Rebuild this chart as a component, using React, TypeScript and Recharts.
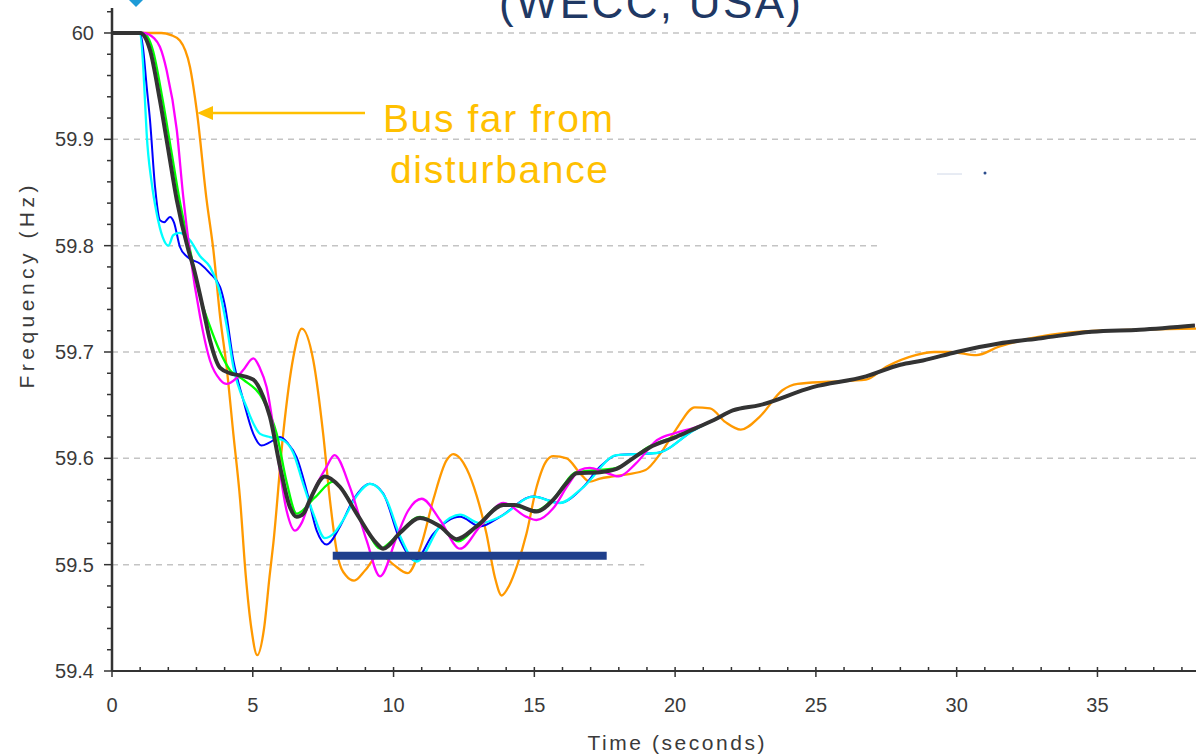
import React from "react";
import { LineChart, Line, XAxis, YAxis, ReferenceLine } from "recharts";

// [time (s), frequency (Hz)]
const ORANGE: [number, number][] = [
  [0, 60], [1.75, 60], [2.1, 59.998], [2.41, 59.993], [2.77, 59.968], [3.02, 59.925],
  [3.36, 59.843], [3.6, 59.796], [3.84, 59.733], [4.07, 59.686], [4.31, 59.623],
  [4.55, 59.561], [4.75, 59.49], [4.95, 59.44], [5.16, 59.415], [5.4, 59.44], [5.6, 59.49],
  [5.73, 59.52], [6.08, 59.623], [6.44, 59.695], [6.74, 59.722], [7.15, 59.692],
  [7.5, 59.623], [7.74, 59.561], [8.0, 59.51], [8.3, 59.49], [8.6, 59.485], [9.0, 59.495],
  [9.5, 59.51], [10.0, 59.5], [10.5, 59.492], [11.0, 59.52], [11.41, 59.561],
  [11.88, 59.598], [12.12, 59.604], [12.6, 59.59], [12.95, 59.565], [13.3, 59.529],
  [13.6, 59.488], [13.84, 59.471], [14.1, 59.48], [14.4, 59.5], [14.72, 59.529],
  [15.08, 59.573], [15.44, 59.598], [15.67, 59.602], [16.15, 59.6], [16.62, 59.586],
  [16.97, 59.578], [17.33, 59.581], [17.8, 59.583], [18.3, 59.585], [18.95, 59.589],
  [19.49, 59.605], [20.03, 59.627], [20.7, 59.648], [21.24, 59.647], [21.79, 59.634],
  [22.33, 59.627], [23.0, 59.639], [23.81, 59.664], [24.35, 59.67], [25.43, 59.672],
  [26.78, 59.674], [27.5, 59.686], [28.54, 59.697], [29.2, 59.7], [29.8, 59.7],
  [30.7, 59.697], [31.5, 59.705], [33.3, 59.716], [35.0, 59.72], [36.5, 59.721], [38.5, 59.722],
];

// common slow recovery, all near buses overlap here
const TAIL: [number, number][] = [
  [21.38, 59.636], [22.05, 59.645], [23.0, 59.65], [24.89, 59.667], [26.78, 59.677],
  [28.0, 59.688], [28.8, 59.692], [30.0, 59.7], [31.5, 59.708], [33.0, 59.713],
  [34.8, 59.719], [36.5, 59.721], [38.46, 59.725],
];

const BLUE: [number, number][] = [
  [0, 60], [1.0, 60], [1.11, 59.984], [1.23, 59.95], [1.35, 59.918], [1.53, 59.855],
  [1.7, 59.824], [1.85, 59.822], [2.06, 59.827], [2.2, 59.822], [2.41, 59.799],
  [2.65, 59.79], [3.13, 59.783], [3.48, 59.774], [3.84, 59.761], [4.0, 59.745],
  [4.31, 59.692], [4.66, 59.655], [5.02, 59.623], [5.31, 59.612], [5.6, 59.615],
  [5.97, 59.62], [6.25, 59.614], [6.56, 59.601], [6.91, 59.57], [7.27, 59.532],
  [7.62, 59.519], [8.1, 59.536], [8.57, 59.561], [9.16, 59.576], [9.63, 59.567],
  [10.23, 59.523], [10.76, 59.504], [11.41, 59.529], [12.36, 59.545], [13.07, 59.536],
  [13.78, 59.545], [14.96, 59.564], [15.9, 59.558], [16.74, 59.573], [17.33, 59.592],
  [17.92, 59.603], [19.35, 59.605], [20.7, 59.627],
];

const CYAN: [number, number][] = [
  [0, 60], [0.97, 60], [1.11, 59.968], [1.17, 59.937], [1.23, 59.906], [1.41, 59.859],
  [1.59, 59.83], [1.8, 59.808], [2.0, 59.8], [2.18, 59.81], [2.41, 59.812], [2.77, 59.805],
  [3.13, 59.79], [3.48, 59.78], [3.78, 59.761], [4.07, 59.725], [4.31, 59.686],
  [4.78, 59.648], [5.26, 59.623], [5.61, 59.62], [6.08, 59.617], [6.44, 59.605],
  [6.79, 59.576], [7.15, 59.548], [7.56, 59.525], [7.9, 59.53], [8.21, 59.542],
  [8.7, 59.565], [9.16, 59.576], [9.75, 59.561], [10.23, 59.527], [10.82, 59.503],
  [11.65, 59.536], [12.36, 59.547], [13.07, 59.539], [13.78, 59.545], [14.96, 59.564],
  [15.9, 59.558], [16.74, 59.573], [17.92, 59.603], [19.35, 59.605], [20.7, 59.627],
];

const GREEN: [number, number][] = [
  [0, 60], [1.1, 60], [1.45, 59.984], [1.8, 59.937], [2.1, 59.89], [2.4, 59.843],
  [2.78, 59.795], [3.1, 59.755], [3.48, 59.724], [3.84, 59.7], [4.19, 59.683],
  [4.66, 59.674], [5.37, 59.655], [5.85, 59.623], [6.2, 59.578], [6.56, 59.548],
  [7.2, 59.563], [7.86, 59.578], [8.2, 59.57], [8.69, 59.548], [9.1, 59.53],
  [9.52, 59.515], [10.0, 59.524], [10.94, 59.545], [11.65, 59.536], [12.3, 59.522],
  [12.95, 59.536], [13.9, 59.557], [15.08, 59.551], [15.67, 59.562], [16.5, 59.587],
  [17.92, 59.591], [19.08, 59.611], [20.03, 59.621],
];

const MAGENTA: [number, number][] = [
  [0, 60], [1.1, 60], [1.5, 59.995], [1.7, 59.987], [1.94, 59.965], [2.3, 59.909],
  [2.53, 59.846], [2.77, 59.793], [3.13, 59.733], [3.48, 59.692], [3.84, 59.674],
  [4.07, 59.67], [4.4, 59.675], [4.66, 59.683], [5.02, 59.694], [5.25, 59.685],
  [5.49, 59.667], [5.85, 59.608], [6.2, 59.551], [6.5, 59.532], [6.75, 59.54],
  [7.03, 59.561], [7.62, 59.592], [7.9, 59.603], [8.45, 59.573], [9.04, 59.523],
  [9.52, 59.489], [10.11, 59.526], [10.5, 59.55], [11.0, 59.562], [11.65, 59.542],
  [12.36, 59.515], [13.07, 59.536], [13.9, 59.558], [14.72, 59.545], [15.08, 59.542],
  [15.67, 59.553], [16.2, 59.575], [16.62, 59.589], [16.97, 59.591], [17.4, 59.588],
  [18.0, 59.583], [18.6, 59.595], [19.35, 59.617], [20.03, 59.624], [20.7, 59.629],
];

const BLACK: [number, number][] = [
  [0, 60], [1.0, 60], [1.35, 59.984], [1.7, 59.937], [2.0, 59.89], [2.3, 59.843],
  [2.7, 59.797], [2.89, 59.78], [3.25, 59.739], [3.48, 59.711], [3.84, 59.685],
  [4.2, 59.68], [4.55, 59.678], [5.02, 59.674], [5.37, 59.658], [5.61, 59.639],
  [5.97, 59.592], [6.32, 59.554], [6.56, 59.545], [6.8, 59.548], [7.03, 59.561],
  [7.56, 59.583], [8.1, 59.573], [8.69, 59.548], [9.4, 59.52], [9.63, 59.515],
  [10.23, 59.53], [10.94, 59.544], [11.65, 59.536], [12.24, 59.524], [12.95, 59.536],
  [13.9, 59.556], [14.3, 59.556], [15.08, 59.55], [15.67, 59.561], [16.15, 59.577],
  [16.5, 59.586], [17.33, 59.587], [17.92, 59.59], [18.5, 59.6], [19.08, 59.61],
  [20.03, 59.62], [20.7, 59.628],
];

// highlighted nadir band
const BAR: [number, number][] = [[7.84, 59.5085], [17.57, 59.5085]];

const X_MAJOR = [0, 5, 10, 15, 20, 25, 30, 35];
const Y_MAJOR = [59.4, 59.5, 59.6, 59.7, 59.8, 59.9, 60];
const GRID_Y = [60, 59.9, 59.8, 59.7, 59.6, 59.5];
const GRID_END = [38.5, 38.5, 27.2, 38.5, 38.5, 18.9];

const X_TICKS = Array.from({ length: 39 }, (_, i) => i);
const Y_TICKS = Array.from({ length: 32 }, (_, i) => Math.round((59.4 + i * 0.02) * 100) / 100);

const FONT = "'Liberation Sans', Arial, sans-serif";
const AXIS = "#333333";
const LABEL = "#3a3a3a";
const GOLD = "#FFC000";

const pts = (arr: [number, number][]) => arr.map(([t, f]) => ({ t, f }));

function XTick({ x, y, payload }: any) {
  const major = X_MAJOR.includes(payload.value);
  return (
    <g>
      <line x1={x} x2={x} y1={y - 4} y2={major ? y + 6 : y} stroke={AXIS} strokeWidth={1.5} />
      {major && (
        <text x={x} y={y + 41} textAnchor="middle" fontSize={20} fill={LABEL} fontFamily={FONT}>
          {payload.value}
        </text>
      )}
    </g>
  );
}

function YTick({ x, y, payload }: any) {
  const major = Y_MAJOR.some((v) => Math.abs(v - payload.value) < 1e-6);
  return (
    <g>
      <line x1={x - (major ? 8 : 5)} x2={x} y1={y} y2={y} stroke={AXIS} strokeWidth={1.5} />
      {major && (
        <text x={x - 18} y={y} dy="0.35em" textAnchor="end" fontSize={20} fill={LABEL} fontFamily={FONT}>
          {String(Math.round(payload.value * 10) / 10)}
        </text>
      )}
    </g>
  );
}

const SERIES = [
  { key: "orange", data: ORANGE, color: "#FF9900", width: 2.3 },
  { key: "blue", data: BLUE.concat(TAIL), color: "#0000FF", width: 2 },
  { key: "cyan", data: CYAN.concat(TAIL), color: "#00FFFF", width: 2.3 },
  { key: "green", data: GREEN.concat(TAIL), color: "#00FF00", width: 2.3 },
  { key: "magenta", data: MAGENTA.concat(TAIL), color: "#FF00FF", width: 2.3 },
  { key: "black", data: BLACK.concat(TAIL), color: "#333333", width: 4 },
];

export default function App() {
  return (
    <div style={{ position: "fixed", left: 0, top: 0, width: 1196, height: 756, background: "#fff", overflow: "hidden" }}>
      <LineChart width={1196} height={756} margin={{ top: 8, right: 0, bottom: 0, left: 0 }}>
        <XAxis
          type="number"
          dataKey="t"
          domain={[0, 38.5]}
          allowDataOverflow
          ticks={X_TICKS}
          interval={0}
          tick={<XTick />}
          tickLine={false}
          tickSize={0}
          tickMargin={0}
          height={85}
          axisLine={{ stroke: AXIS, strokeWidth: 2 }}
        />
        <YAxis
          type="number"
          dataKey="f"
          domain={[59.4, 60.0235]}
          allowDataOverflow
          ticks={Y_TICKS}
          interval={0}
          tick={<YTick />}
          tickLine={false}
          tickSize={0}
          tickMargin={0}
          width={112}
          axisLine={{ stroke: AXIS, strokeWidth: 2.5 }}
        />
        {GRID_Y.map((y, i) => (
          <ReferenceLine
            key={y}
            segment={[{ x: 0, y }, { x: GRID_END[i], y }]}
            stroke="#C4C4C4"
            strokeWidth={1.5}
            strokeDasharray="6 5"
          />
        ))}
        {SERIES.map((s) => (
          <Line
            key={s.key}
            data={pts(s.data)}
            dataKey="f"
            type="monotone"
            stroke={s.color}
            strokeWidth={s.width}
            dot={false}
            activeDot={false}
            isAnimationActive={false}
          />
        ))}
        <Line
          data={pts(BAR)}
          dataKey="f"
          type="linear"
          stroke="#1F3F8C"
          strokeWidth={8}
          strokeLinecap="butt"
          dot={false}
          activeDot={false}
          isAnimationActive={false}
        />
      </LineChart>

      <svg
        width={1196}
        height={756}
        style={{ position: "absolute", left: 0, top: 0, pointerEvents: "none" }}
      >
        <text x={650} y={18} textAnchor="middle" fontSize={44} fill="#1F3864" fontFamily={FONT} textLength={302}>
          (WECC, USA)
        </text>
        <polygon points="129,0 143,0 136,7" fill="#1E9BD7" />

        <line x1={365} y1={113} x2={210} y2={113} stroke={GOLD} strokeWidth={2.7} />
        <polygon points="197,113 213,106 213,120" fill={GOLD} />
        <text x={498} y={132} textAnchor="middle" fontSize={39} fill={GOLD} fontFamily={FONT} textLength={230}>
          Bus far from
        </text>
        <text x={499} y={183} textAnchor="middle" fontSize={39} fill={GOLD} fontFamily={FONT} textLength={218}>
          disturbance
        </text>

        <line x1={937} y1={174} x2={962} y2={174} stroke="#D0D8E8" strokeWidth={1} />
        <circle cx={985} cy={173} r={1.5} fill="#2B4C8C" />

        <text
          transform="translate(34,287) rotate(-90)"
          textAnchor="middle"
          fontSize={21}
          fill={LABEL}
          fontFamily={FONT}
          textLength={203}
        >
          Frequency (Hz)
        </text>
        <text x={676} y={750} textAnchor="middle" fontSize={21} fill={LABEL} fontFamily={FONT} textLength={177}>
          Time (seconds)
        </text>
      </svg>
    </div>
  );
}
